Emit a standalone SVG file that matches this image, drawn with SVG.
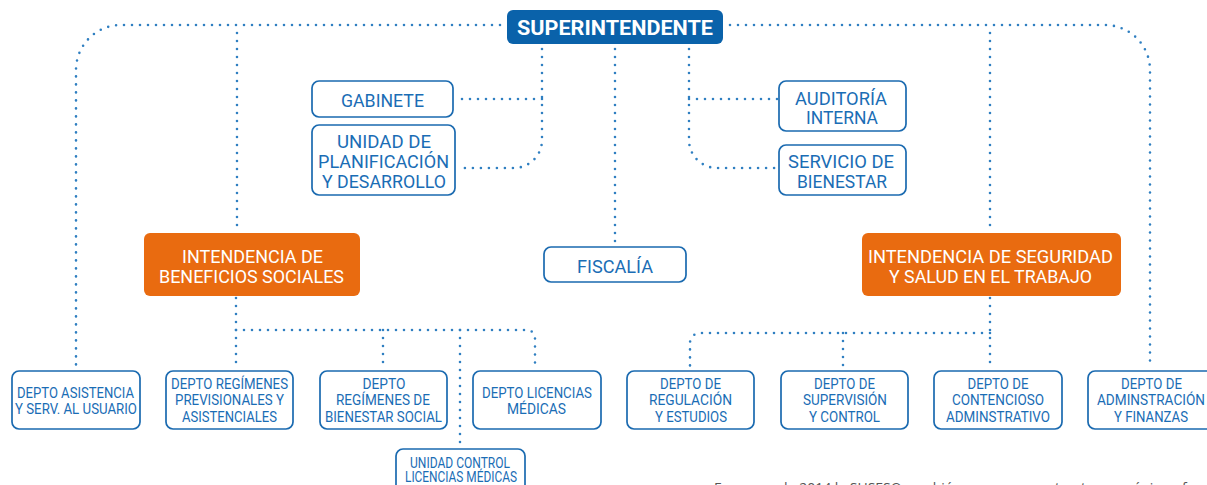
<svg xmlns="http://www.w3.org/2000/svg" width="1207" height="485" viewBox="0 0 1207 485">
<style>
.dot{fill:none;stroke:#2f7fc1;stroke-width:2.6;stroke-linecap:round;stroke-dasharray:0 8}
.box{fill:#fff;stroke:#1a6ab0;stroke-width:1.7}
.org{fill:#e96b10}
.sup{fill:#0a62aa}
text{font-family:Roboto,"Liberation Sans",Arial,sans-serif;text-anchor:middle}
.t{fill:#1a6db5;font-size:18.5px}
.s{fill:#1a6db5;font-size:15px}
.xs{fill:#1a6db5;font-size:14px}
.w{fill:#fff;font-size:19px}
.b{fill:#fff;font-size:21px;font-weight:700}
.cap{font-family:"Open Sans","Liberation Sans",sans-serif;font-size:14px;fill:#555;text-anchor:start}
</style>
<rect width="1207" height="485" fill="#fff"/>
<g id="connectors">
<path class="dot" d="M500,25 H120 A45,45 0 0 0 76,70 V366"/>
<path class="dot" d="M730,25 H1105 A45,45 0 0 1 1150,70 V366"/>
<path class="dot" d="M237,33 V226"/>
<path class="dot" d="M990,33 V226"/>
<path class="dot" d="M542,49 V140 A28,28 0 0 1 514,168 H460"/>
<path class="dot" d="M542,99 H458"/>
<path class="dot" d="M615,49 V245"/>
<path class="dot" d="M689,49 V140 A28,28 0 0 0 717,168 H778"/>
<path class="dot" d="M689,99 H778"/>
<path class="dot" d="M236,298 V366"/>
<path class="dot" d="M236,330 H527 A8,8 0 0 1 535,338 V366"/>
<path class="dot" d="M383,330 V366"/>
<path class="dot" d="M460,330 V445"/>
<path class="dot" d="M990,298 V366"/>
<path class="dot" d="M990,333 H700 A10,10 0 0 0 690,343 V366"/>
<path class="dot" d="M843,333 V366"/>
</g>
<g id="superintendente">
<rect class="sup" x="507" y="10" width="216" height="34" rx="6"/>
<text class="b" x="615" y="35" textLength="196" lengthAdjust="spacingAndGlyphs">SUPERINTENDENTE</text>
</g>
<g id="gabinete">
<rect class="box" x="312" y="81" width="141" height="36" rx="7"/>
<text class="t" x="382.5" y="107" textLength="83" lengthAdjust="spacingAndGlyphs">GABINETE</text>
</g>
<g id="unidad-planificacion">
<rect class="box" x="312" y="125" width="143" height="70" rx="7"/>
<text class="t" x="384" y="148" textLength="94" lengthAdjust="spacingAndGlyphs">UNIDAD DE</text>
<text class="t" x="383.5" y="168" textLength="131" lengthAdjust="spacingAndGlyphs">PLANIFICACIÓN</text>
<text class="t" x="384" y="188" textLength="124" lengthAdjust="spacingAndGlyphs">Y DESARROLLO</text>
</g>
<g id="auditoria">
<rect class="box" x="779" y="81" width="127" height="50" rx="7"/>
<text class="t" x="841" y="105" textLength="92" lengthAdjust="spacingAndGlyphs">AUDITORÍA</text>
<text class="t" x="842" y="124" textLength="72" lengthAdjust="spacingAndGlyphs">INTERNA</text>
</g>
<g id="servicio-bienestar">
<rect class="box" x="779" y="145" width="127" height="50" rx="7"/>
<text class="t" x="841" y="168" textLength="106" lengthAdjust="spacingAndGlyphs">SERVICIO DE</text>
<text class="t" x="842" y="188" textLength="90" lengthAdjust="spacingAndGlyphs">BIENESTAR</text>
</g>
<g id="fiscalia">
<rect class="box" x="544" y="247" width="142" height="35" rx="7"/>
<text class="t" x="615" y="273" textLength="76" lengthAdjust="spacingAndGlyphs">FISCALÍA</text>
</g>
<g id="intendencia-beneficios">
<rect class="org" x="144" y="233" width="216" height="63" rx="6"/>
<text class="w" x="252.5" y="263" textLength="141" lengthAdjust="spacingAndGlyphs">INTENDENCIA DE</text>
<text class="w" x="251.5" y="283" textLength="185" lengthAdjust="spacingAndGlyphs">BENEFICIOS SOCIALES</text>
</g>
<g id="intendencia-seguridad">
<rect class="org" x="862" y="233" width="259" height="63" rx="6"/>
<text class="w" x="990.5" y="263" textLength="245" lengthAdjust="spacingAndGlyphs">INTENDENCIA DE SEGURIDAD</text>
<text class="w" x="990.5" y="283" textLength="203" lengthAdjust="spacingAndGlyphs">Y SALUD EN EL TRABAJO</text>
</g>
<g id="depto-asistencia">
<rect class="box" x="12" y="371" width="128" height="58" rx="7"/>
<text class="s" x="75.5" y="398" textLength="117" lengthAdjust="spacingAndGlyphs">DEPTO ASISTENCIA</text>
<text class="s" x="76" y="414" textLength="122" lengthAdjust="spacingAndGlyphs">Y SERV. AL USUARIO</text>
</g>
<g id="depto-regimenes-previsionales">
<rect class="box" x="166" y="371" width="127" height="58" rx="7"/>
<text class="s" x="229.5" y="389" textLength="117" lengthAdjust="spacingAndGlyphs">DEPTO REGÍMENES</text>
<text class="s" x="229.5" y="405" textLength="109" lengthAdjust="spacingAndGlyphs">PREVISIONALES Y</text>
<text class="s" x="229.5" y="422" textLength="95" lengthAdjust="spacingAndGlyphs">ASISTENCIALES</text>
</g>
<g id="depto-regimenes-bienestar">
<rect class="box" x="320" y="371" width="127" height="58" rx="7"/>
<text class="s" x="384" y="389" textLength="43" lengthAdjust="spacingAndGlyphs">DEPTO</text>
<text class="s" x="383" y="405" textLength="94" lengthAdjust="spacingAndGlyphs">REGÍMENES DE</text>
<text class="s" x="383.5" y="422" textLength="117" lengthAdjust="spacingAndGlyphs">BIENESTAR SOCIAL</text>
</g>
<g id="depto-licencias">
<rect class="box" x="473" y="371" width="128" height="58" rx="7"/>
<text class="s" x="537" y="398" textLength="110" lengthAdjust="spacingAndGlyphs">DEPTO LICENCIAS</text>
<text class="s" x="536.5" y="414" textLength="59" lengthAdjust="spacingAndGlyphs">MÉDICAS</text>
</g>
<g id="unidad-control">
<rect class="box" x="396" y="449" width="129" height="50" rx="7"/>
<text class="xs" x="460" y="468" textLength="100" lengthAdjust="spacingAndGlyphs">UNIDAD CONTROL</text>
<text class="xs" x="461" y="482" textLength="112" lengthAdjust="spacingAndGlyphs">LICENCIAS MÉDICAS</text>
</g>
<g id="depto-regulacion">
<rect class="box" x="627" y="371" width="127" height="58" rx="7"/>
<text class="s" x="690.5" y="389" textLength="61" lengthAdjust="spacingAndGlyphs">DEPTO DE</text>
<text class="s" x="690.5" y="405" textLength="83" lengthAdjust="spacingAndGlyphs">REGULACIÓN</text>
<text class="s" x="691" y="422" textLength="72" lengthAdjust="spacingAndGlyphs">Y ESTUDIOS</text>
</g>
<g id="depto-supervision">
<rect class="box" x="781" y="371" width="127" height="58" rx="7"/>
<text class="s" x="844.5" y="389" textLength="61" lengthAdjust="spacingAndGlyphs">DEPTO DE</text>
<text class="s" x="845" y="405" textLength="84" lengthAdjust="spacingAndGlyphs">SUPERVISIÓN</text>
<text class="s" x="844.5" y="422" textLength="71" lengthAdjust="spacingAndGlyphs">Y CONTROL</text>
</g>
<g id="depto-contencioso">
<rect class="box" x="934" y="371" width="128" height="58" rx="7"/>
<text class="s" x="998" y="389" textLength="61" lengthAdjust="spacingAndGlyphs">DEPTO DE</text>
<text class="s" x="998" y="405" textLength="92" lengthAdjust="spacingAndGlyphs">CONTENCIOSO</text>
<text class="s" x="998" y="422" textLength="104" lengthAdjust="spacingAndGlyphs">ADMINSTRATIVO</text>
</g>
<g id="depto-administracion">
<rect class="box" x="1088" y="371" width="127" height="58" rx="7"/>
<text class="s" x="1151.5" y="389" textLength="61" lengthAdjust="spacingAndGlyphs">DEPTO DE</text>
<text class="s" x="1151" y="405" textLength="108" lengthAdjust="spacingAndGlyphs">ADMINSTRACIÓN</text>
<text class="s" x="1151" y="422" textLength="74" lengthAdjust="spacingAndGlyphs">Y FINANZAS</text>
</g>
<text class="cap" x="714" y="493">En marzo de 2014 la SUSESO cambió a una nueva estructura orgánica y fue</text>
</svg>
